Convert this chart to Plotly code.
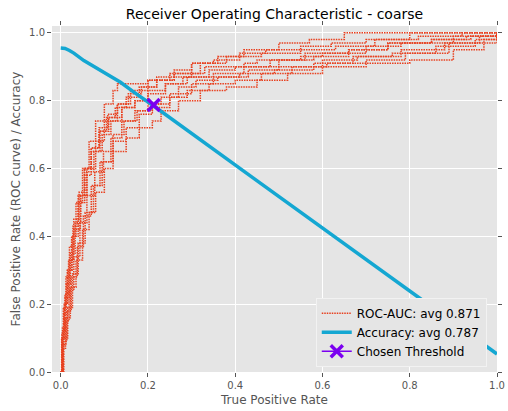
import plotly.graph_objects as go

# ROC curves of the 10 folds (x = rate on horizontal axis, y = rate on vertical axis)
roc_x = [
    [0, 0.003, 0.008, 0.015, 0.025, 0.035, 0.05, 0.065, 0.08, 0.1, 0.12, 0.13, 0.2, 0.22, 0.3, 0.33, 0.42, 0.45, 0.55, 0.6, 0.7, 0.78, 0.9, 1.0],
    [0, 0.004, 0.01, 0.02, 0.03, 0.045, 0.06, 0.08, 0.1, 0.13, 0.16, 0.2, 0.25, 0.3, 0.36, 0.42, 0.5, 0.57, 0.65, 1.0],
    [0, 0.005, 0.012, 0.022, 0.035, 0.05, 0.065, 0.08, 0.1, 0.12, 0.15, 0.18, 0.21, 0.23, 0.27, 0.32, 0.38, 0.45, 0.52, 0.6, 0.7, 0.8, 0.9, 0.97, 1.0],
    [0, 0.003, 0.009, 0.016, 0.026, 0.04, 0.055, 0.07, 0.09, 0.11, 0.14, 0.17, 0.2, 0.24, 0.28, 0.34, 0.4, 0.48, 0.56, 0.66, 0.75, 0.85, 0.93, 1.0],
    [0, 0.006, 0.014, 0.024, 0.038, 0.052, 0.07, 0.09, 0.115, 0.14, 0.17, 0.2, 0.23, 0.27, 0.31, 0.36, 0.43, 0.5, 0.6, 0.68, 0.78, 0.88, 0.96, 1.0],
    [0, 0.002, 0.006, 0.012, 0.02, 0.03, 0.042, 0.055, 0.07, 0.088, 0.105, 0.125, 0.15, 0.18, 0.22, 0.26, 0.32, 0.38, 0.46, 0.55, 0.63, 0.72, 0.82, 0.92, 1.0],
    [0, 0.005, 0.011, 0.019, 0.03, 0.044, 0.06, 0.078, 0.098, 0.12, 0.145, 0.175, 0.21, 0.25, 0.3, 0.35, 0.41, 0.49, 0.58, 0.67, 0.76, 0.86, 0.95, 1.0],
    [0, 0.004, 0.01, 0.018, 0.028, 0.04, 0.054, 0.07, 0.088, 0.108, 0.13, 0.155, 0.185, 0.22, 0.26, 0.3, 0.35, 0.41, 0.47, 0.55, 0.62, 0.7, 0.8, 1.0],
    [0, 0.007, 0.016, 0.027, 0.04, 0.056, 0.075, 0.095, 0.12, 0.15, 0.18, 0.21, 0.25, 0.29, 0.34, 0.4, 0.46, 0.53, 0.61, 0.7, 0.79, 0.89, 1.0],
    [0, 0.003, 0.007, 0.013, 0.022, 0.033, 0.046, 0.06, 0.076, 0.095, 0.115, 0.14, 0.17, 0.2, 0.24, 0.29, 0.35, 0.42, 0.5, 0.58, 0.66, 0.75, 0.85, 0.94, 1.0],
]
roc_y = [
    [0, 0.1, 0.2, 0.3, 0.4, 0.5, 0.6, 0.68, 0.74, 0.79, 0.83, 0.85, 0.86, 0.87, 0.88, 0.9, 0.91, 0.92, 0.93, 0.94, 0.96, 0.97, 0.99, 1.0],
    [0, 0.12, 0.22, 0.33, 0.42, 0.52, 0.6, 0.68, 0.74, 0.79, 0.83, 0.86, 0.88, 0.91, 0.93, 0.95, 0.97, 0.98, 1.0, 1.0],
    [0, 0.08, 0.16, 0.25, 0.33, 0.42, 0.47, 0.53, 0.6, 0.65, 0.69, 0.72, 0.74, 0.77, 0.8, 0.83, 0.84, 0.86, 0.88, 0.9, 0.91, 0.92, 0.95, 0.98, 1.0],
    [0, 0.11, 0.2, 0.3, 0.4, 0.5, 0.58, 0.65, 0.71, 0.75, 0.78, 0.8, 0.82, 0.85, 0.87, 0.89, 0.9, 0.92, 0.94, 0.95, 0.97, 0.98, 0.99, 1.0],
    [0, 0.09, 0.18, 0.28, 0.37, 0.46, 0.55, 0.62, 0.69, 0.74, 0.77, 0.79, 0.81, 0.84, 0.86, 0.87, 0.89, 0.9, 0.92, 0.93, 0.95, 0.97, 0.99, 1.0],
    [0, 0.1, 0.19, 0.28, 0.37, 0.45, 0.53, 0.6, 0.66, 0.71, 0.75, 0.78, 0.81, 0.84, 0.86, 0.88, 0.91, 0.93, 0.94, 0.95, 0.96, 0.98, 0.99, 1.0, 1.0],
    [0, 0.07, 0.15, 0.24, 0.34, 0.44, 0.52, 0.59, 0.65, 0.7, 0.74, 0.77, 0.79, 0.82, 0.85, 0.87, 0.88, 0.89, 0.91, 0.93, 0.94, 0.96, 0.98, 1.0],
    [0, 0.13, 0.23, 0.33, 0.43, 0.52, 0.6, 0.66, 0.72, 0.76, 0.79, 0.82, 0.84, 0.86, 0.89, 0.91, 0.92, 0.94, 0.95, 0.96, 0.97, 0.98, 1.0, 1.0],
    [0, 0.1, 0.19, 0.29, 0.38, 0.47, 0.55, 0.62, 0.68, 0.72, 0.76, 0.78, 0.81, 0.83, 0.85, 0.86, 0.88, 0.9, 0.91, 0.92, 0.94, 0.97, 1.0],
    [0, 0.09, 0.17, 0.26, 0.35, 0.44, 0.52, 0.59, 0.65, 0.7, 0.74, 0.78, 0.8, 0.83, 0.85, 0.87, 0.88, 0.9, 0.92, 0.93, 0.95, 0.97, 0.98, 0.99, 1.0],
]

# accuracy as a function of the threshold position
acc_x = [0, 0.01, 0.02, 0.03, 0.053, 0.08, 0.1, 0.137, 0.17, 0.21, 0.44, 0.6, 0.85, 1.0]
acc_y = [0.955, 0.954, 0.948, 0.94, 0.918, 0.897, 0.882, 0.854, 0.823, 0.787, 0.573, 0.425, 0.193, 0.053]

chosen_x = [0.213]
chosen_y = [0.787]

auc_avg = 0.871
acc_avg = 0.787

RED = '#E8401F'
CYAN = '#14A7D2'
PURPLE = '#7B00F0'
GRAY = '#555555'
FONT = 'DejaVu Sans'

fig = go.Figure()

for i, (xs, ys) in enumerate(zip(roc_x, roc_y)):
    fig.add_trace(go.Scatter(
        x=xs, y=ys,
        mode='lines',
        line=dict(color=RED, width=1.5, dash='1.5px,1px', shape='hv'),
        name=f'ROC-AUC: avg {auc_avg:.3f}',
        legendgroup='roc',
        showlegend=(i == 0)
    ))

fig.add_trace(go.Scatter(
    x=acc_x, y=acc_y,
    mode='lines',
    line=dict(color=CYAN, width=3.5),
    name=f'Accuracy: avg {acc_avg:.3f}'
))

fig.add_trace(go.Scatter(
    x=chosen_x, y=chosen_y,
    mode='lines+markers',
    line=dict(color=PURPLE, width=1.5),
    marker=dict(symbol='x-thin', size=12, color=PURPLE,
                line=dict(color=PURPLE, width=3.5)),
    name='Chosen Threshold'
))

axis_common = dict(
    showgrid=True,
    gridcolor='white',
    gridwidth=1,
    zeroline=False,
    showline=False,
    ticks='outside',
    ticklen=4,
    tickcolor=GRAY,
    mirror='ticks',
    automargin=False,
    ticklabeloverflow='allow',
    tickfont=dict(family=FONT, size=10, color=GRAY),
    tickformat='.1f',
    dtick=0.2,
)

fig.update_xaxes(
    range=[-0.02, 1.0],
    title=dict(text='True Positive Rate', font=dict(family=FONT, size=12, color=GRAY), standoff=5),
    **axis_common
)
fig.update_yaxes(
    range=[0, 1.02],
    title=dict(text='False Positive Rate (ROC curve) / Accuracy',
               font=dict(family=FONT, size=12, color=GRAY), standoff=5),
    **axis_common
)

fig.update_layout(
    width=508,
    height=411,
    margin=dict(l=52, r=11, t=26, b=39),
    paper_bgcolor='white',
    plot_bgcolor='#E5E5E5',
    font=dict(family=FONT, color='black'),
    title=dict(
        text='Receiver Operating Characteristic - coarse',
        x=0.5, xref='paper', xanchor='center',
        y=1, yref='paper', yanchor='bottom',
        pad=dict(b=7),
        font=dict(family=FONT, size=14, color='black')
    ),
    legend=dict(
        x=0.977, y=0.015, xanchor='right', yanchor='bottom',
        bgcolor='#E5E5E5',
        bordercolor='#F2F2F2',
        borderwidth=1,
        font=dict(family=FONT, size=12, color='black'),
        tracegroupgap=0,
        itemwidth=30,
    ),
    showlegend=True,
)

# page body has a default 8px margin and may scroll; pin the figure to the corner
fig.write_html("out.html", config={'displayModeBar': False},
               post_script="document.body.style.margin='0';"
                           "document.body.style.overflow='hidden';"
                           "document.documentElement.style.overflow='hidden';")
